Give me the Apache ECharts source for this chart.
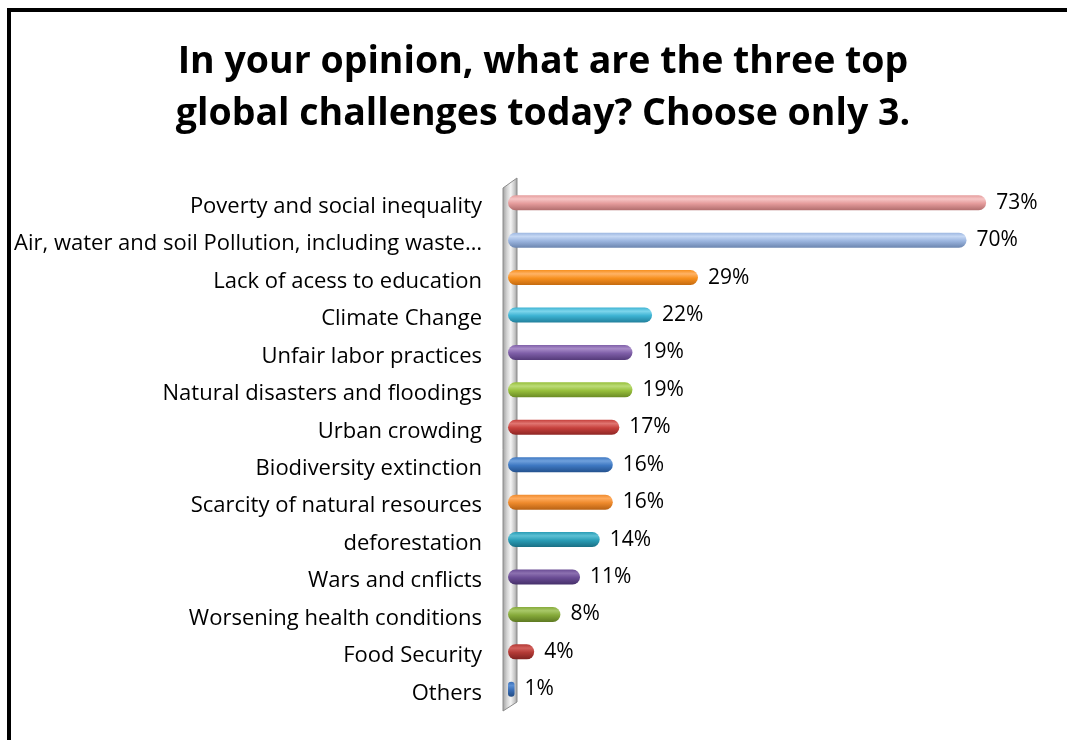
<!DOCTYPE html>
<html>
<head>
<meta charset="utf-8">
<script src="https://cdn.jsdelivr.net/npm/echarts@6/dist/echarts.min.js"></script>
<style>
  html, body { margin: 0; padding: 0; background: #fff; }
  #chart { width: 1067px; height: 740px; }
</style>
</head>
<body>
<div id="chart"></div>
<script>
// Survey answers, most frequent first
const categories = [
  'Poverty and social inequality',
  'Air, water and soil Pollution, including waste…',
  'Lack of acess to education',
  'Climate Change',
  'Unfair labor practices',
  'Natural disasters and floodings',
  'Urban crowding',
  'Biodiversity extinction',
  'Scarcity of natural resources',
  'deforestation',
  'Wars and cnflicts',
  'Worsening health conditions',
  'Food Security',
  'Others'
];
const percentages = [73, 70, 29, 22, 19, 19, 17, 16, 16, 14, 11, 8, 4, 1];

// [highlight, body, shadow] for each bar's cylinder shading
const barShades = [
  ['#F6C6C6', '#E59C9C', '#B26E6E'],
  ['#C6D8F4', '#9CB6E0', '#6C86B0'],
  ['#FFB366', '#F7901E', '#C46A10'],
  ['#7ED6EC', '#3DB3D3', '#22809C'],
  ['#A88CC8', '#7F5FA8', '#553B7A'],
  ['#BCDC78', '#98C03C', '#6A8A24'],
  ['#E07470', '#C6403C', '#8E2624'],
  ['#6FA0DC', '#3E78C2', '#24528E'],
  ['#FFAA5C', '#EE8A2C', '#B86214'],
  ['#5CC0D4', '#2A9DB6', '#1A6F84'],
  ['#8C70B0', '#6A4C94', '#46306A'],
  ['#A8C868', '#86AA3A', '#5E7A22'],
  ['#D2605C', '#B33A36', '#7E2220'],
  ['#5C90D4', '#3A6EB6', '#224C84']
];

const titleText = 'In your opinion, what are the three top\nglobal challenges today? Choose only 3.';

const chart = echarts.init(document.getElementById('chart'));

const barData = percentages.map((v, i) => ({
  value: v,
  itemStyle: {
    color: new echarts.graphic.LinearGradient(0, 0, 0, 1, [
      { offset: 0, color: barShades[i][1] },
      { offset: 0.25, color: barShades[i][0] },
      { offset: 0.55, color: barShades[i][1] },
      { offset: 1, color: barShades[i][2] }
    ])
  }
}));

chart.setOption({
  backgroundColor: '#ffffff',
  animation: false,
  graphic: [
    {
      // outer frame
      type: 'rect',
      z: 0,
      shape: { x: 9, y: 10, width: 1100, height: 800 },
      style: { fill: 'none', stroke: '#000', lineWidth: 4 }
    },
    {
      // two-line heading, centred inside the frame
      type: 'text',
      z: 2,
      x: 543,
      y: 36,
      style: {
        text: titleText,
        align: 'center',
        verticalAlign: 'top',
        fontFamily: 'Open Sans',
        fontWeight: 'bold',
        fontSize: 37.5,
        lineHeight: 52,
        fill: '#000'
      }
    },
    {
      // slanted wall behind the bars
      type: 'polygon',
      z: 1,
      shape: { points: [[503, 188], [517, 178], [517, 702], [503, 711]] },
      style: {
        fill: new echarts.graphic.LinearGradient(0, 0, 1, 0, [
          { offset: 0, color: '#9C9C9C' },
          { offset: 0.3, color: '#D4D4D4' },
          { offset: 0.55, color: '#F4F4F4' },
          { offset: 0.8, color: '#C8C8C8' },
          { offset: 1, color: '#989898' }
        ]),
        stroke: '#8C8C8C',
        lineWidth: 1
      }
    }
  ],
  grid: {
    left: 508,
    right: 35,
    top: 184,
    height: 524,
    containLabel: false
  },
  xAxis: {
    type: 'value',
    min: 0,
    max: 80,
    show: false
  },
  yAxis: {
    type: 'category',
    data: categories,
    inverse: true,
    axisLine: { show: false },
    axisTick: { show: false },
    axisLabel: {
      margin: 26,
      formatter: '{t|{value}}',
      rich: {
        t: {
          fontFamily: 'Open Sans',
          fontSize: 22,
          color: '#000',
          padding: [8, 0, 0, 0]
        }
      }
    }
  },
  series: [{
    type: 'bar',
    data: barData,
    barWidth: 15,
    z: 3,
    itemStyle: { borderRadius: 7.5 },
    label: {
      show: true,
      position: 'right',
      distance: 10,
      formatter: '{c}%',
      fontFamily: 'Open Sans',
      fontSize: 21,
      color: '#000'
    }
  }]
});
</script>
</body>
</html>
